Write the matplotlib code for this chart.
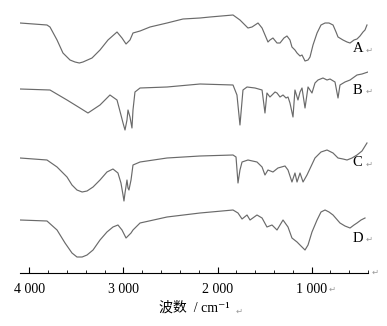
import matplotlib.pyplot as plt
from matplotlib.ticker import MultipleLocator, FuncFormatter

# FTIR spectra, relative transmittance (each trace starts at 0)
wn_a = [4101, 3814, 3782, 3707, 3644, 3569, 3516, 3470, 3431, 3335, 3250, 3165, 3069, 3016, 2973,
        2931, 2899, 2824, 2718, 2537, 2367, 2186, 2080, 1835, 1761, 1676, 1633, 1569, 1526,
        1463, 1442, 1410, 1367, 1335, 1293, 1261, 1229, 1208, 1176, 1154, 1122, 1101, 1069,
        1037, 1016, 984, 941, 899, 856, 814, 771, 739, 718, 665, 622, 590, 548, 516, 484,
        452, 431, 410]
t_a = [0, -2, -4, -17, -30, -37, -39, -40, -39, -35, -27, -17, -9, -15, -21,
       -17, -10, -8, -4, 0, 4, 5, 6, 8, 3, -5, -4, 0, -5,
       -19, -17, -15, -20, -20, -15, -13, -17, -24, -27, -30, -33, -32, -38,
       -37, -34, -22, -10, -2, 0, 0, -2, -9, -14, -17, -19, -20, -17, -16, -13,
       -9, -7, -2]

wn_b = [4101, 3782, 3601, 3463, 3378, 3250, 3144, 3069, 3027, 3005, 2984, 2963, 2952, 2931,
        2910, 2899, 2878, 2824, 2537, 2186, 1835, 1793, 1761, 1729, 1686, 1601, 1526, 1495,
        1474, 1442, 1420, 1388, 1367, 1335, 1303, 1271, 1250, 1229, 1197, 1176, 1144, 1122,
        1101, 1069, 1037, 1016, 995, 963, 931, 878, 835, 803, 750, 718, 697, 644, 590, 516,
        463, 399]
t_b = [0, -1, -11, -19, -24, -16, -6, -11, -26, -34, -41, -31, -21, -28,
       -39, -21, -3, 1, 2, 5, 4, -6, -36, -1, 2, 1, -1, -24,
       -4, -8, -6, -3, -4, -8, -6, -9, -8, -14, -28, -1, -11, -3,
       1, -19, 2, -1, -4, 6, 9, 11, 9, 10, 7, -9, 4, 7, 9, 14,
       15, 17]

wn_c = [4101, 3814, 3707, 3601, 3548, 3495, 3440, 3388, 3324, 3250, 3176, 3112, 3059, 3027, 3005,
        2995, 2984, 2963, 2952, 2942, 2920, 2899, 2824, 2537, 2186, 1835, 1803, 1782, 1761,
        1739, 1676, 1580, 1526, 1495, 1463, 1410, 1357, 1282, 1250, 1208, 1176, 1154, 1122,
        1090, 1048, 963, 899, 835, 771, 718, 665, 622, 569, 516, 463, 410]
t_c = [0, -2, -9, -19, -27, -32, -34, -33, -29, -22, -14, -11, -15, -25, -37,
       -43, -35, -22, -30, -32, -22, -7, -4, 0, 2, 3, 1, -25, -12,
       -4, -2, -4, -9, -17, -12, -14, -10, -8, -12, -24, -15, -24, -15,
       -24, -17, 0, 6, 8, 5, 0, -1, -2, 0, 3, 7, 15]

wn_d = [4101, 3814, 3707, 3622, 3548, 3495, 3440, 3388, 3324, 3250, 3176, 3112, 3059, 3016, 2973,
        2952, 2920, 2899, 2824, 2537, 2186, 1835, 1782, 1739, 1686, 1654, 1580, 1526, 1474,
        1420, 1367, 1303, 1250, 1208, 1154, 1112, 1069, 1037, 995, 941, 899, 856, 814,
        771, 697, 644, 590, 548, 516, 473, 431]
t_d = [0, -1, -10, -23, -33, -37, -37, -35, -30, -20, -12, -7, -5, -10, -18,
       -16, -13, -10, -3, 3, 7, 10, 7, 1, 5, 0, 5, 2, -7,
       -5, -10, 0, -7, -18, -22, -26, -30, -25, -12, 0, 8, 10, 8,
       5, -3, -6, -8, -5, -3, 0, 2]

names = ['A', 'B', 'C', 'D']
spectra = [(wn_a, t_a), (wn_b, t_b), (wn_c, t_c), (wn_d, t_d)]
shifts = [250, 184, 115, 53]
label_y = [224, 183, 110, 35]

serif = ['Liberation Serif', 'Noto Sans CJK SC', 'DejaVu Sans']
mark_color = '#9a9a9a'

fig = plt.figure(figsize=(3.87, 3.26), dpi=100)
ax = fig.add_axes([20 / 387, 53 / 326, 348 / 387, 273 / 326])

for (wn, t), s in zip(spectra, shifts):
    ax.plot(wn, [v + s for v in t], color='#6a6a6a', lw=0.85)

for name, ly in zip(names, label_y):
    ax.text(560, ly, name, fontsize=10.5, family=serif, ha='left', va='center')
    ax.text(425, ly - 1, '\u21b5', fontsize=6, color=mark_color, ha='left', va='center')

ax.set_xlim(4101, 399)
ax.set_ylim(0, 273)

for side in ['left', 'right', 'top']:
    ax.spines[side].set_visible(False)
ax.spines['bottom'].set_linewidth(0.8)
ax.set_yticks([])

ax.xaxis.set_major_locator(MultipleLocator(1000))
ax.xaxis.set_minor_locator(MultipleLocator(200))
ax.xaxis.set_major_formatter(FuncFormatter(lambda v, p: f'{int(v) // 1000} {int(v) % 1000:03d}'))
ax.tick_params(axis='x', which='major', direction='in', length=4, width=0.8, pad=7, labelsize=10)
ax.tick_params(axis='x', which='minor', direction='in', length=2.5, width=0.6)
for lab in ax.get_xticklabels():
    lab.set_family(serif)

ax.set_xlabel('波数  / cm⁻¹', fontsize=10, family=serif, labelpad=4)

# paragraph marks
fig.text(372 / 387, 1 - 272 / 326, '\u21b5', fontsize=6, color=mark_color, va='center')
fig.text(329 / 387, 1 - 289 / 326, '\u21b5', fontsize=6, color=mark_color, va='center')
fig.text(236 / 387, 1 - 311 / 326, '\u21b5', fontsize=6, color=mark_color, va='center')

fig.savefig('out.png', dpi=100)
